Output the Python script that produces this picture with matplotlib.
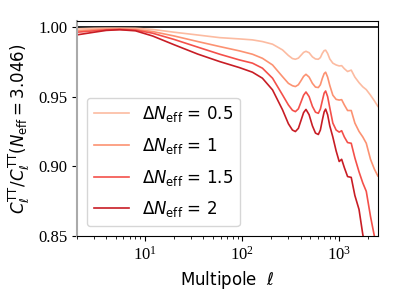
import matplotlib
matplotlib.use("Agg")
import matplotlib.pyplot as plt

# serif tick labels (Times-like), sans labels and legend
plt.rcParams['font.family'] = ['Liberation Serif', 'DejaVu Serif']
plt.rcParams['mathtext.fontset'] = 'stix'

# multipoles
ell = [2, 3, 4, 5.5, 8, 12, 20, 35, 59, 94, 128, 162, 206, 261, 300, 330,
       354, 380, 405, 430, 455, 490, 530, 570, 610, 640, 670, 700, 725, 760,
       800, 860, 930, 1000, 1060, 1130, 1220, 1330, 1450, 1600, 1750, 1900,
       2100, 2300, 2500]

# ratio C_l(N_eff + dN) / C_l(N_eff = 3.046)
ratio_05 = [0.9986, 0.9990, 0.9991, 0.9991, 0.9990, 0.9982, 0.9962, 0.9942,
            0.9923, 0.9914, 0.9907, 0.9895, 0.9876, 0.9835, 0.9795, 0.9773,
            0.9768, 0.9776, 0.9797, 0.9817, 0.9825, 0.9815, 0.9785, 0.9770,
            0.9768, 0.9780, 0.9810, 0.9830, 0.9833, 0.9810, 0.9770, 0.9740,
            0.9727, 0.9720, 0.9722, 0.9700, 0.9680, 0.9690, 0.9640, 0.9600,
            0.9570, 0.9550, 0.9510, 0.9470, 0.9430]
ratio_1 = [0.9973, 0.9980, 0.9984, 0.9985, 0.9982, 0.9967, 0.9935, 0.9895,
           0.9859, 0.9828, 0.9804, 0.9775, 0.9727, 0.9643, 0.9595, 0.9578,
           0.9572, 0.9585, 0.9615, 0.9645, 0.9660, 0.9640, 0.9595, 0.9568,
           0.9565, 0.9585, 0.9630, 0.9665, 0.9675, 0.9640, 0.9580, 0.9510,
           0.9480, 0.9475, 0.9478, 0.9440, 0.9400, 0.9400, 0.9310, 0.9250,
           0.9210, 0.9165, 0.9050, 0.8980, 0.8930]
ratio_15 = [0.9962, 0.9972, 0.9979, 0.9982, 0.9977, 0.9955, 0.9910, 0.9855,
            0.9804, 0.9763, 0.9740, 0.9704, 0.9632, 0.9512, 0.9440, 0.9402,
            0.9392, 0.9412, 0.9462, 0.9510, 0.9533, 0.9500, 0.9430, 0.9388,
            0.9380, 0.9410, 0.9470, 0.9525, 0.9540, 0.9500, 0.9420, 0.9310,
            0.9260, 0.9245, 0.9255, 0.9210, 0.9170, 0.9165, 0.9060, 0.8960,
            0.8880, 0.8820, 0.8640, 0.8500, 0.8380]
ratio_2 = [0.9943, 0.9962, 0.9975, 0.9980, 0.9972, 0.9935, 0.9872, 0.9805,
           0.9751, 0.9708, 0.9675, 0.9632, 0.9548, 0.9405, 0.9305, 0.9260,
           0.9249, 0.9272, 0.9330, 0.9385, 0.9408, 0.9370, 0.9290, 0.9238,
           0.9228, 0.9260, 0.9330, 0.9390, 0.9410, 0.9370, 0.9290, 0.9210,
           0.9110, 0.9034, 0.9050, 0.8990, 0.8926, 0.8920, 0.8790, 0.8690,
           0.8510, 0.8380, 0.8250, 0.8120, 0.8000]

labels = [r'$\Delta N_{\rm eff}$ = 0.5', r'$\Delta N_{\rm eff}$ = 1',
          r'$\Delta N_{\rm eff}$ = 1.5', r'$\Delta N_{\rm eff}$ = 2']
colors = ['#fcbba1', '#fc9272', '#f4504a', '#c81d25']

fig = plt.figure(figsize=(3.99, 2.99), dpi=100)
ax = fig.add_axes([0.193, 0.211, 0.754, 0.719])

ax.axhline(1.0, color='black', lw=1.2)
for r, c, lab in zip([ratio_05, ratio_1, ratio_15, ratio_2], colors, labels):
    ax.plot(ell, r, color=c, lw=1.2, label=lab)

ax.set_xscale('log')
ax.set_xlim(2, 2500)
ax.set_ylim(0.85, 1.0043)
ax.set_yticks([0.85, 0.90, 0.95, 1.00])
ax.set_yticklabels(['0.85', '0.90', '0.95', '1.00'])

ax.tick_params(which='major', length=3.5, width=0.8, labelsize=12)
ax.tick_params(which='minor', length=2, width=0.6)
ax.spines['left'].set_color('#aaaaaa')
ax.spines['left'].set_linewidth(1.5)

ax.set_xlabel(r'Multipole  $\ell$', fontsize=12, family='DejaVu Sans',
              math_fontfamily='dejavusans')
ax.set_ylabel(r'$C_\ell^{\rm TT}/C_\ell^{\rm TT}(N_{\rm eff}=3.046)$',
              fontsize=12, family='DejaVu Sans', math_fontfamily='dejavusans')

leg = ax.legend(loc='lower left', prop={'family': 'DejaVu Sans', 'size': 12},
                handlelength=2.1, handletextpad=0.8, labelspacing=0.7,
                borderaxespad=0.6)
for t in leg.get_texts():
    t.set_math_fontfamily('dejavusans')

fig.savefig('out.png', dpi=100)
